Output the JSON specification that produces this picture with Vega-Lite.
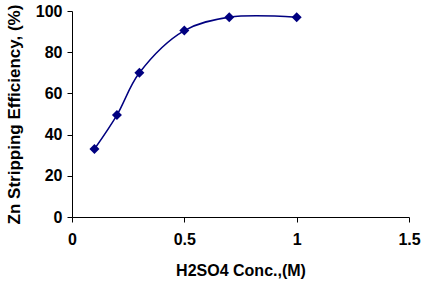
{
  "$schema": "https://vega.github.io/schema/vega-lite/v6.json",
  "width": 337,
  "height": 206,
  "autosize": {"type": "none"},
  "padding": {"left": 72, "top": 11, "right": 13, "bottom": 69},
  "background": "white",
  "config": {
    "view": {"stroke": null},
    "font": "Liberation Sans",
    "axis": {
      "grid": false,
      "domainColor": "black",
      "tickColor": "black",
      "labelColor": "black",
      "titleColor": "black",
      "labelFont": "Liberation Sans",
      "titleFont": "Liberation Sans",
      "labelFontSize": 16,
      "labelFontWeight": "bold",
      "titleFontSize": 16,
      "titleFontWeight": "bold",
      "tickSize": 5
    }
  },
  "data": {
    "values": [
      {"conc": 0.1, "eff": 33},
      {"conc": 0.2, "eff": 49.5},
      {"conc": 0.3, "eff": 70},
      {"conc": 0.5, "eff": 90.5},
      {"conc": 0.7, "eff": 97},
      {"conc": 1.0, "eff": 97}
    ]
  },
  "layer": [
    {
      "mark": {"type": "line", "interpolate": "catmull-rom", "color": "#000080", "strokeWidth": 1.5},
      "encoding": {
        "x": {"field": "conc", "type": "quantitative"},
        "y": {"field": "eff", "type": "quantitative"}
      }
    },
    {
      "mark": {"type": "point", "shape": "diamond", "filled": true, "color": "#000080", "opacity": 1, "size": 100},
      "encoding": {
        "x": {
          "field": "conc", "type": "quantitative",
          "scale": {"domain": [0, 1.5], "nice": false},
          "axis": {"values": [0, 0.5, 1, 1.5], "format": "~g", "title": "H2SO4 Conc.,(M)", "labelPadding": 9, "titlePadding": 15, "labelFlush": false}
        },
        "y": {
          "field": "eff", "type": "quantitative",
          "scale": {"domain": [0, 100], "nice": false},
          "axis": {"values": [0, 20, 40, 60, 80, 100], "title": "Zn Stripping Efficiency, (%)", "labelPadding": 5, "titlePadding": 12, "titleFontSize": 17}
        }
      }
    }
  ]
}
